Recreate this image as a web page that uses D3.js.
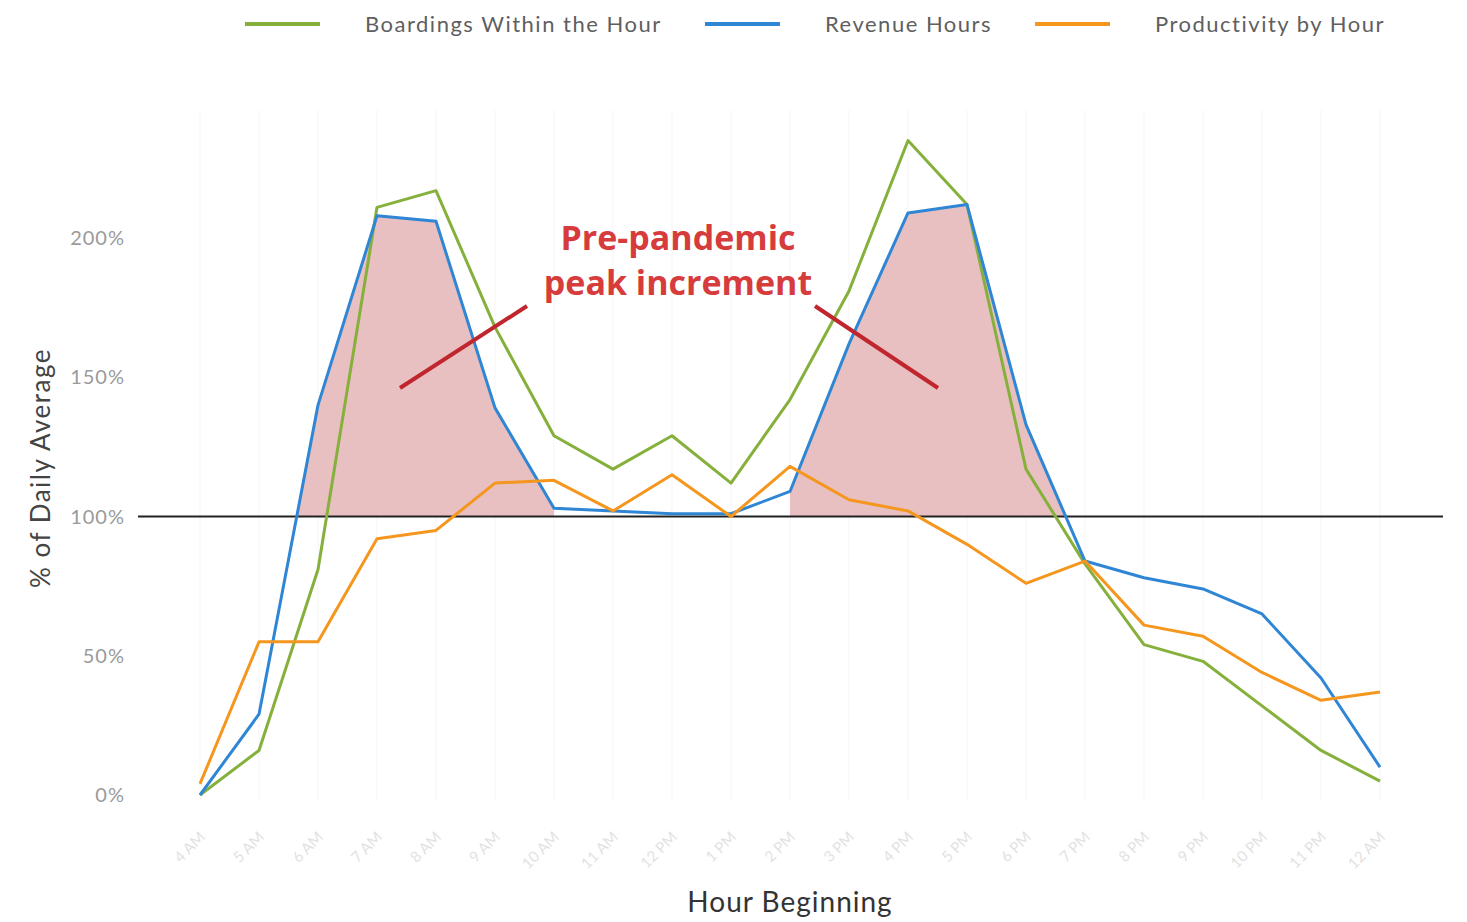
<!DOCTYPE html>
<meta charset="utf-8">
<style>
body { margin: 0; background: #fff; }
</style>
<svg width="1467" height="922"></svg>
<script src="https://d3js.org/d3.v7.min.js"></script>
<script>

var hours = ["4 AM","5 AM","6 AM","7 AM","8 AM","9 AM","10 AM","11 AM","12 PM","1 PM","2 PM",
             "3 PM","4 PM","5 PM","6 PM","7 PM","8 PM","9 PM","10 PM","11 PM","12 AM"];

var boardings    = [0, 16, 81, 211, 217, 168, 129, 117, 129, 112, 142, 181, 235, 212, 117, 83, 54, 48, 32, 16, 5];
var revenueHours = [0, 29, 140, 208, 206, 139, 103, 102, 101, 101, 109, 162, 209, 212, 133, 84, 78, 74, 65, 42, 10];
var productivity = [4, 55, 55, 92, 95, 112, 113, 102, 115, 100, 118, 106, 102, 90, 76, 84, 61, 57, 44, 34, 37];

var yTicks = [0, 50, 100, 150, 200];

var series = [
  { name: "Boardings Within the Hour", values: boardings,    color: "#86b03c" },
  { name: "Revenue Hours",             values: revenueHours, color: "#2e86d4" },
  { name: "Productivity by Hour",      values: productivity, color: "#f5961e" }
];

// hour index ranges of the shaded peaks
var peaks = [[1, 6], [10, 15]];

var svg = d3.select("svg");

var x = d3.scalePoint().domain(hours).range([200, 1380]);
var y = d3.scaleLinear().domain([0, 200]).range([795, 238]);

// faint grid
svg.append("g").selectAll("line")
  .data(hours)
  .join("line")
    .attr("x1", function(d) { return x(d); })
    .attr("x2", function(d) { return x(d); })
    .attr("y1", 110).attr("y2", 800)
    .attr("stroke", "#f5f5f5");

// shaded peak increment (blue above 100%)
svg.append("clipPath").attr("id", "above")
  .append("rect").attr("x", 0).attr("y", 0).attr("width", 1467).attr("height", y(100));

var area = d3.area()
    .x(function(d) { return x(hours[d]); })
    .y0(y(100))
    .y1(function(d) { return y(revenueHours[d]); });

svg.append("g").attr("clip-path", "url(#above)")
  .selectAll("path")
  .data(peaks)
  .join("path")
    .attr("d", function(p) { return area(d3.range(p[0], p[1] + 1)); })
    .attr("fill", "#e9c0c1");

// y axis labels
svg.append("g").selectAll("text")
  .data(yTicks)
  .join("text")
    .attr("x", 125)
    .attr("y", function(d) { return y(d); })
    .attr("dy", "0.35em")
    .attr("text-anchor", "end")
    .attr("font-family", "Lato, sans-serif")
    .attr("font-size", 20)
    .attr("letter-spacing", 1)
    .attr("fill", "#9a9a9a")
    .text(function(d) { return d + "%"; });

// x axis labels (faint, rotated)
svg.append("g").selectAll("text")
  .data(hours)
  .join("text")
    .attr("transform", function(d) { return "translate(" + (x(d) + 6) + ",838) rotate(-45)"; })
    .attr("text-anchor", "end")
    .attr("font-family", "Lato, sans-serif")
    .attr("font-size", 15)
    .attr("fill", "#e2e2e2")
    .text(function(d) { return d; });

// 100% reference line
svg.append("line")
    .attr("x1", 138).attr("x2", 1443)
    .attr("y1", y(100)).attr("y2", y(100))
    .attr("stroke", "#222").attr("stroke-width", 2);

var line = d3.line()
    .x(function(d, i) { return x(hours[i]); })
    .y(function(d) { return y(d); });

svg.append("g").selectAll("path")
  .data(series)
  .join("path")
    .attr("d", function(s) { return line(s.values); })
    .attr("fill", "none")
    .attr("stroke", function(s) { return s.color; })
    .attr("stroke-width", 3)
    .attr("stroke-linejoin", "round");

// legend
var legendX = [245, 705, 1035];
var legend = svg.append("g").selectAll("g")
  .data(series)
  .join("g")
    .attr("transform", function(d, i) { return "translate(" + legendX[i] + ",24)"; });
legend.append("line")
    .attr("x1", 0).attr("x2", 75)
    .attr("stroke", function(d) { return d.color; })
    .attr("stroke-width", 4);
legend.append("text")
    .attr("x", 120)
    .attr("dy", "0.35em")
    .attr("font-family", "Lato, sans-serif")
    .attr("font-size", 22)
    .attr("letter-spacing", 1.5)
    .attr("fill", "#5f5f5f")
    .text(function(d) { return d.name; });

// axis titles
svg.append("text")
    .attr("transform", "translate(50,468) rotate(-90)")
    .attr("text-anchor", "middle")
    .attr("font-family", "Lato, sans-serif")
    .attr("font-size", 26)
    .attr("letter-spacing", 1.5)
    .attr("fill", "#444")
    .text("% of Daily Average");

svg.append("text")
    .attr("x", 790).attr("y", 912)
    .attr("text-anchor", "middle")
    .attr("font-family", "Lato, sans-serif")
    .attr("font-size", 28)
    .attr("letter-spacing", 1)
    .attr("fill", "#333")
    .text("Hour Beginning");

// annotation
var note = svg.append("text")
    .attr("text-anchor", "middle")
    .attr("font-family", "'Open Sans', sans-serif")
    .attr("font-weight", "bold")
    .attr("font-size", 34)
    .attr("fill", "#d63c3c");
note.append("tspan").attr("x", 678).attr("y", 250).text("Pre-pandemic");
note.append("tspan").attr("x", 678).attr("y", 295).text("peak increment");

svg.append("g").selectAll("line")
  .data([[527, 306, 400, 388], [815, 306, 938, 388]])
  .join("line")
    .attr("x1", function(d) { return d[0]; })
    .attr("y1", function(d) { return d[1]; })
    .attr("x2", function(d) { return d[2]; })
    .attr("y2", function(d) { return d[3]; })
    .attr("stroke", "#c0262e")
    .attr("stroke-width", 4);

</script>
